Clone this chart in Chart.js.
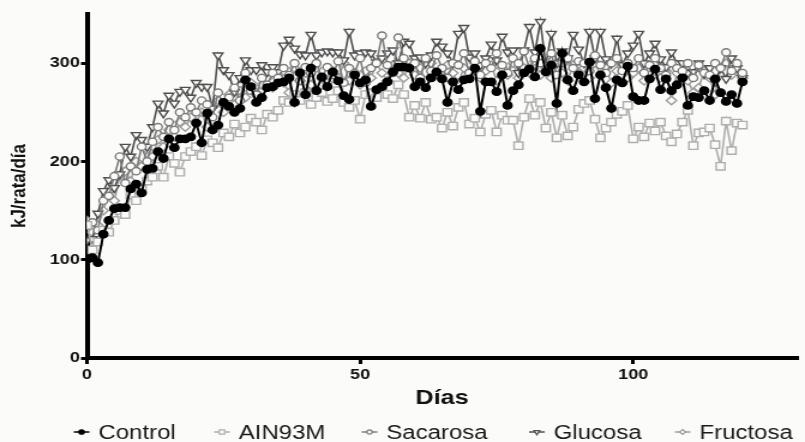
<!DOCTYPE html>
<html>
<head>
<meta charset="utf-8">
<script src="https://cdn.jsdelivr.net/npm/chart.js@4/dist/chart.umd.min.js"></script>
<style>
  html, body { margin: 0; padding: 0; background: #fbfbf9; overflow: hidden; }
  #wrap { width: 805px; height: 442px; overflow: hidden; }
  /* the figure is drawn on a narrower canvas and widened to the page width */
  #c { display: block; width: 671px; height: 442px; transform: scale(1.1997, 1); transform-origin: 0 0; }
</style>
</head>
<body>
<div id="wrap"><canvas id="c" width="671" height="442"></canvas></div>
<script>
// Days of the study
const days = [
  0,1,2,3,4,5,6,7,8,9,10,11,12,13,14,15,16,17,18,19,20,
  21,22,23,24,25,26,27,28,29,30,31,32,33,34,35,36,37,38,39,40,
  41,42,43,44,45,46,47,48,49,50,51,52,53,54,55,56,57,58,59,60,
  61,62,63,64,65,66,67,68,69,70,71,72,73,74,75,76,77,78,79,80,
  81,82,83,84,85,86,87,88,89,90,91,92,93,94,95,96,97,98,99,100,
  101,102,103,104,105,106,107,108,109,110,111,112,113,114,115,116,117,118,119,120
];

// Daily energy intake, kJ per rat per day
const control = [
  100,102,97,126,140,152,153,153,172,177,168,192,193,210,203,223,214,223,223,225,239,
  219,249,232,237,260,256,250,254,283,276,260,265,275,276,280,281,285,260,290,268,
  295,272,286,276,291,282,267,263,288,280,283,256,273,276,281,291,296,296,295,276,
  281,275,285,291,284,260,281,273,283,284,295,251,281,281,271,288,257,272,278,290,
  294,286,315,291,298,259,310,283,272,288,281,301,264,288,275,254,283,280,297,266,
  262,262,284,294,273,284,272,278,285,257,266,265,272,262,284,270,261,268,259,281
];
const ain93m = [
  135,110,118,130,128,140,150,146,166,160,172,180,184,195,184,205,198,189,205,210,215,
  206,222,219,214,229,225,238,229,235,244,240,232,248,245,252,262,260,268,262,270,
  258,265,270,261,264,272,260,255,262,243,268,270,265,274,268,264,278,268,245,257,
  244,260,243,245,234,250,236,255,260,238,244,230,248,252,230,247,242,242,216,245,
  264,247,260,234,250,224,247,226,235,253,259,262,243,224,234,240,248,251,257,223,
  235,225,239,231,240,226,220,228,240,252,216,229,230,234,217,195,241,211,239,237
];
const sacarosa = [
  135,138,130,160,165,185,205,178,195,190,215,200,220,235,225,240,232,250,245,255,250,
  262,258,245,270,258,265,275,262,290,272,268,285,278,290,285,295,288,300,282,296,
  290,300,285,296,288,302,280,295,290,305,280,295,300,328,298,290,326,305,296,300,
  285,305,292,308,295,285,300,298,310,290,302,288,300,295,310,298,290,305,300,312,
  295,305,300,292,310,288,300,305,295,302,300,292,308,298,290,300,305,292,300,295,
  305,290,298,305,295,288,300,295,292,300,285,298,290,288,300,295,311,292,300,290
];
const glucosa = [
  120,121,147,170,181,173,187,215,205,227,222,215,235,259,249,267,259,271,273,265,280,
  276,276,254,308,293,288,271,285,303,293,293,298,291,296,291,318,324,315,309,308,
  329,308,311,312,311,311,303,332,308,310,311,310,301,305,310,313,300,322,320,305,
  306,300,308,322,317,310,300,330,336,306,310,298,305,319,303,327,311,313,290,313,
  337,311,342,298,330,300,312,305,329,314,300,332,305,332,304,300,325,298,310,318,
  330,300,310,320,304,296,311,300,300,290,291,300,289,295,281,295,284,305,295,285
];
const fructosa = [
  140,128,135,150,170,160,185,190,180,200,195,212,205,222,215,232,225,240,235,245,240,
  250,235,255,262,250,268,258,272,265,280,270,278,285,275,288,280,270,295,282,290,
  278,295,285,280,292,285,300,282,290,278,292,285,300,290,282,298,290,285,300,288,
  295,282,300,290,285,298,290,280,295,288,300,285,292,298,282,295,288,300,285,295,
  290,302,288,295,285,300,290,282,298,290,295,285,300,288,295,280,292,298,285,290,
  295,282,288,300,285,292,262,290,295,282,270,275,292,285,268,295,300,288,292,285
];

// Axis ticks
const xTicks = [0, 50, 100];
const yTicks = [0, 100, 200, 300];

const BG = '#fbfbf9';

function pairs(values) {
  return values.map((v, i) => ({ x: days[i], y: v }));
}

const series = [
  { label: 'Control',  values: control,  color: '#000000', fill: '#000000', style: 'circle',   radius: 3.7, rot: 0,   width: 2.0 },
  { label: 'AIN93M',   values: ain93m,   color: '#aeaeae', fill: BG,        style: 'rect',     radius: 5.2, rot: 0,   width: 1.6 },
  { label: 'Sacarosa', values: sacarosa, color: '#7c7c7c', fill: BG,        style: 'circle',   radius: 3.6, rot: 0,   width: 1.6 },
  { label: 'Glucosa',  values: glucosa,  color: '#4f4f4f', fill: BG,        style: 'triangle', radius: 4.6, rot: 180, width: 1.6 },
  { label: 'Fructosa', values: fructosa, color: '#9c9c9c', fill: BG,        style: 'rectRot',  radius: 4.2, rot: 0,   width: 1.6 }
];

const datasets = series.map(s => ({
  label: s.label,
  data: pairs(s.values),
  borderColor: s.color,
  borderWidth: s.width,
  pointStyle: s.style,
  pointRadius: s.radius,
  pointRotation: s.rot,
  pointBackgroundColor: s.fill,
  pointBorderColor: s.color,
  pointBorderWidth: 1.4,
  tension: 0,
  fill: false
}));

// Page background
const bgPlugin = {
  id: 'bg',
  beforeDraw(chart) {
    const ctx = chart.ctx;
    ctx.save();
    ctx.fillStyle = BG;
    ctx.fillRect(0, 0, chart.width, chart.height);
    ctx.restore();
  }
};

function marker(ctx, s, x, y, r) {
  ctx.beginPath();
  if (s.style === 'circle') {
    ctx.arc(x, y, r, 0, Math.PI * 2);
  } else if (s.style === 'rect') {
    const h = r * Math.SQRT1_2;
    ctx.rect(x - h, y - h, 2 * h, 2 * h);
  } else if (s.style === 'rectRot') {
    ctx.moveTo(x, y - r); ctx.lineTo(x + r, y); ctx.lineTo(x, y + r); ctx.lineTo(x - r, y); ctx.closePath();
  } else if (s.style === 'triangle') {
    ctx.moveTo(x - r * 0.87, y - r * 0.5); ctx.lineTo(x + r * 0.87, y - r * 0.5); ctx.lineTo(x, y + r); ctx.closePath();
  }
  ctx.fillStyle = s.fill;
  ctx.fill();
  ctx.lineWidth = 1.2;
  ctx.strokeStyle = s.color;
  ctx.stroke();
}

// Legend row under the axis title: short line with the series marker, then the name
const legendPlugin = {
  id: 'rowLegend',
  afterDraw(chart) {
    const ctx = chart.ctx;
    const cy = 432;
    const symX = [68, 185, 308, 447.5, 569];
    ctx.save();
    ctx.font = '20px "Liberation Sans", Arial, sans-serif';
    ctx.textBaseline = 'middle';
    series.forEach((s, i) => {
      const cx = symX[i];
      ctx.beginPath();
      ctx.moveTo(cx - 6.5, cy);
      ctx.lineTo(cx + 6.5, cy);
      ctx.lineWidth = 1.5;
      ctx.strokeStyle = s.color;
      ctx.stroke();
      marker(ctx, s, cx, cy, s.radius * 0.6);
      ctx.fillStyle = '#1a1a1a';
      ctx.fillText(s.label, cx + 14, cy + 1);
    });
    ctx.restore();
  }
};

const tickFont = { family: '"Liberation Sans", Arial, sans-serif', size: 15, weight: 'bold' };

new Chart(document.getElementById('c'), {
  type: 'line',
  data: { datasets },
  options: {
    responsive: false,
    devicePixelRatio: 1,
    animation: false,
    layout: { padding: { left: 0, right: 0, top: 14, bottom: 0 } },
    plugins: { legend: { display: false }, tooltip: { enabled: false } },
    scales: {
      x: {
        type: 'linear',
        min: 0,
        max: 130,
        afterFit(scale) { scale.height = 84; },
        afterBuildTicks(scale) { scale.ticks = xTicks.map(v => ({ value: v })); },
        ticks: { font: tickFont, color: '#111', padding: 2, maxRotation: 0 },
        grid: { display: true, drawOnChartArea: false, drawTicks: true, tickLength: 6, color: '#000', lineWidth: 3 },
        border: { display: true, color: '#000', width: 4 },
        title: {
          display: true,
          text: 'Días',
          color: '#111',
          font: { family: '"Liberation Sans", Arial, sans-serif', size: 21, weight: 'bold' },
          padding: { top: 0, bottom: 31 }
        }
      },
      y: {
        min: 0,
        max: 350,
        afterFit(scale) { scale.width = 72.5; },
        afterBuildTicks(scale) { scale.ticks = yTicks.map(v => ({ value: v })); },
        ticks: { font: tickFont, color: '#111', padding: 1 },
        grid: { display: true, drawOnChartArea: false, drawTicks: true, tickLength: 5, color: '#000', lineWidth: 3 },
        border: { display: true, color: '#000', width: 4 },
        title: {
          display: true,
          text: 'kJ/rata/día',
          color: '#111',
          font: { family: '"Liberation Sans", Arial, sans-serif', size: 17, weight: 'bold' },
          padding: { top: 6, bottom: 0 }
        }
      }
    }
  },
  plugins: [bgPlugin, legendPlugin]
});
</script>
</body>
</html>
